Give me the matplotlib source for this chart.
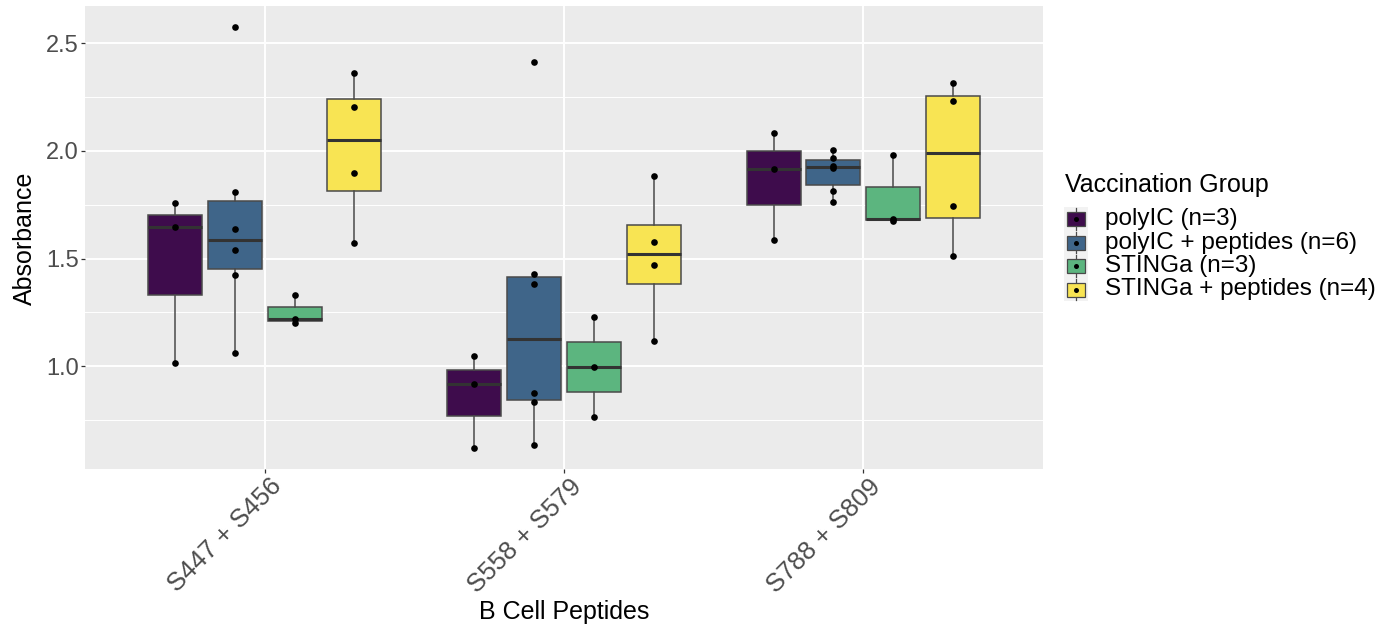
import matplotlib
matplotlib.use("Agg")
import matplotlib.pyplot as plt
from matplotlib.patches import Rectangle
from matplotlib.lines import Line2D
from matplotlib.transforms import ScaledTranslation

plt.rcParams['font.family'] = ['Liberation Sans', 'DejaVu Sans']

# ---- data ----
categories = ["S447 + S456", "S558 + S579", "S788 + S809"]
groups = ["polyIC (n=3)", "polyIC + peptides (n=6)", "STINGa (n=3)", "STINGa + peptides (n=4)"]
colors = ["#3E0C4C", "#3F6589", "#5CB57F", "#F8E453"]

polyIC = [[1.759, 1.645, 1.017],
          [1.049, 0.916, 0.621],
          [2.084, 1.917, 1.584]]
polyIC_pep = [[2.573, 1.809, 1.635, 1.539, 1.422, 1.062],
              [2.413, 1.427, 1.383, 0.874, 0.834, 0.633],
              [2.003, 1.967, 1.931, 1.921, 1.813, 1.762]]
STINGa = [[1.329, 1.219, 1.202],
          [1.230, 0.995, 0.765],
          [1.980, 1.683, 1.675]]
STINGa_pep = [[2.361, 2.203, 1.897, 1.570],
              [1.883, 1.577, 1.468, 1.116],
              [2.316, 2.231, 1.745, 1.513]]
series = [polyIC, polyIC_pep, STINGa, STINGa_pep]

yticks = [1.0, 1.5, 2.0, 2.5]
ytick_labels = ["1.0", "1.5", "2.0", "2.5"]

# ---- figure ----
W, H = 1400, 628
fig = plt.figure(figsize=(W / 100, H / 100), dpi=100)
fig.patch.set_facecolor("white")
ax = fig.add_axes([85 / W, 1 - 469 / H, (1043 - 85) / W, (469 - 6) / H])
ax.set_facecolor("#EBEBEB")
for s in ax.spines.values():
    s.set_visible(False)

dodge = 0.8
n = len(groups)
bw = dodge / n * 0.9
edge = "#4A4A4A"

for gi, (vals, col) in enumerate(zip(series, colors)):
    off = -dodge / 2 + dodge / n * (gi + 0.5)
    pos = [ci + 1 + off for ci in range(len(categories))]
    bp = ax.boxplot(vals, positions=pos, widths=bw, patch_artist=True,
                    showfliers=False, whis=1.5, manage_ticks=False, zorder=3)
    for b in bp['boxes']:
        b.set_facecolor(col)
        b.set_edgecolor(edge)
        b.set_linewidth(1.1)
    for w in bp['whiskers']:
        w.set_color(edge)
        w.set_linewidth(1.1)
    for c in bp['caps']:
        c.set_visible(False)
    for m in bp['medians']:
        m.set_color("#333333")
        m.set_linewidth(2.2)
    for p, v in zip(pos, vals):
        ax.plot([p] * len(v), v, 'o', color='black', markersize=4.8,
                zorder=4, markeredgewidth=0)

ax.set_xlim(0.4, 3.6)
ax.set_ylim(0.523, 2.672)
ax.set_yticks(yticks)
ax.set_yticklabels(ytick_labels)
ax.set_yticks([0.75, 1.25, 1.75, 2.25], minor=True)
ax.set_xticks([1, 2, 3])
ax.set_xticklabels(categories, rotation=45, ha='right', va='top',
                   rotation_mode='anchor')
ax.grid(True, which='major', color='white', linewidth=1.4, zorder=0)
ax.grid(True, which='minor', axis='y', color='white', linewidth=0.7, zorder=0)
ax.set_axisbelow(True)
ax.tick_params(axis='both', which='major', length=3, width=0.9, color='#333333',
               labelsize=17, labelcolor='#4D4D4D', pad=1.5)
ax.tick_params(axis='x', labelsize=18.5)
ax.tick_params(axis='both', which='minor', length=0)
for lab in ax.get_xticklabels():
    lab.set_transform(lab.get_transform() + ScaledTranslation(5 / 100, 1 / 100, fig.dpi_scale_trans))

fig.text(25 / W, 1 - 238 / H, "Absorbance", rotation=90, ha='center', va='center',
         fontsize=18, color='black')
fig.text(564 / W, 1 - 612 / H, "B Cell Peptides", ha='center', va='center',
         fontsize=18, color='black')

# ---- legend (drawn in pixel coordinates) ----
lg = fig.add_axes([0, 0, 1, 1])
lg.set_xlim(0, W)
lg.set_ylim(H, 0)
lg.axis('off')
lg.text(1065, 185, "Vaccination Group", ha='left', va='center', fontsize=18, color='black')
key_y = [219, 242.5, 266, 289.5]
kh = 23.5
lg.add_patch(Rectangle((1064, key_y[0] - kh / 2), 24, kh * 4, facecolor='#F2F2F2',
                       edgecolor='none', zorder=1))
for y, col, lab in zip(key_y, colors, groups):
    lg.add_line(Line2D([1076, 1076], [y - kh / 2 + 1, y + kh / 2 - 1], color=edge, lw=0.9, zorder=2))
    lg.add_patch(Rectangle((1067, y - 7), 18, 14, facecolor=col,
                           edgecolor=edge, lw=0.9, zorder=3))
    lg.plot([1076], [y], 'o', color='black', markersize=3.6, markeredgewidth=0, zorder=5)
    lg.text(1105, y, lab, ha='left', va='center', fontsize=17.5, color='black')

fig.savefig("out.png", dpi=100)
